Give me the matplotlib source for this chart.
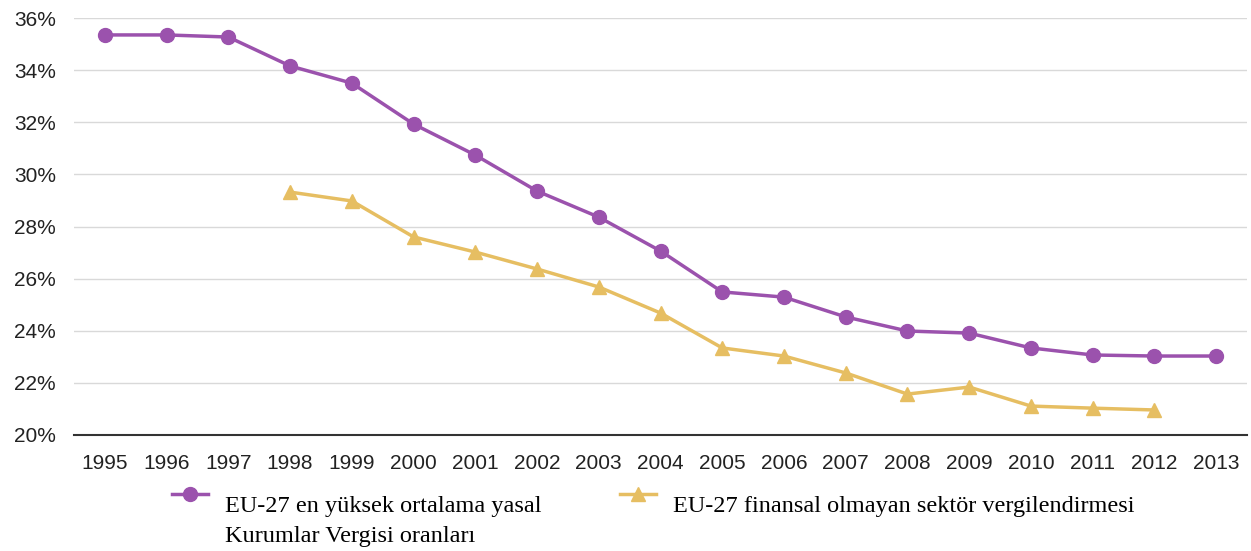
import matplotlib.pyplot as plt
from matplotlib.lines import Line2D
from matplotlib.ticker import FuncFormatter

years = [str(y) for y in range(1995, 2014)]
eu_rate = [35.35, 35.35, 35.27, 34.16, 33.5, 31.93, 30.74, 29.36, 28.36, 27.06,
           25.49, 25.29, 24.53, 23.99, 23.91, 23.34, 23.07, 23.03, 23.03]
nonfin_years = years[3:18]
nonfin_rate = [29.32, 28.98, 27.6, 27.02, 26.37, 25.68, 24.68, 23.34, 23.03,
               22.38, 21.57, 21.84, 21.11, 21.03, 20.96]

label_eu = 'EU-27 en yüksek ortalama yasal\nKurumlar Vergisi oranları'
label_nonfin = 'EU-27 finansal olmayan sektör vergilendirmesi'

purple = '#9b52ad'
yellow = '#e6be62'

W, H = 1251, 551
fig = plt.figure(figsize=(W / 100, H / 100), dpi=100)
ax = fig.add_axes([74 / W, 1 - 435 / H, (1247 - 74) / W, (435 - 18) / H])

x_all = list(range(len(years)))
x_nf = [years.index(y) for y in nonfin_years]
ax.plot(x_all, eu_rate, color=purple, lw=2.5, marker='o', ms=10)
ax.plot(x_nf, nonfin_rate, color=yellow, lw=2.5, marker='^', ms=10)

ax.set_xlim(-0.5, len(years) - 0.5)
ax.set_ylim(20, 36)
ax.set_yticks(range(20, 37, 2))
ax.yaxis.set_major_formatter(FuncFormatter(lambda v, p: f'{int(v)}%'))
ax.set_xticks(x_all)
ax.set_xticklabels(years)
ax.grid(axis='y', color='#d9d9d9', lw=1)
ax.set_axisbelow(True)
for s in ['top', 'right', 'left']:
    ax.spines[s].set_visible(False)
ax.spines['bottom'].set_color('#333333')
ax.spines['bottom'].set_linewidth(1.5)
ax.tick_params(axis='both', length=0, labelsize=15, colors='#222222')
ax.tick_params(axis='y', pad=13)
ax.tick_params(axis='x', pad=14)
for t in ax.get_xticklabels() + ax.get_yticklabels():
    t.set_family('Liberation Sans')

# legend drawn by hand so the marker sits on the first text line
def legend_entry(x0, color, marker, text):
    fig.add_artist(Line2D([(x0) / W, (x0 + 36) / W], [1 - 494 / H] * 2, color=color, lw=2.5))
    fig.add_artist(Line2D([(x0 + 18) / W], [1 - 494 / H], color=color, marker=marker, ms=10))
    fig.text((x0 + 53) / W, 1 - 496 / H, text, family='Liberation Serif', fontsize=17.5,
             va='top', ha='left', linespacing=1.55)

legend_entry(172, purple, 'o', label_eu)
legend_entry(620, yellow, '^', label_nonfin)

fig.savefig('out.png', dpi=100)
